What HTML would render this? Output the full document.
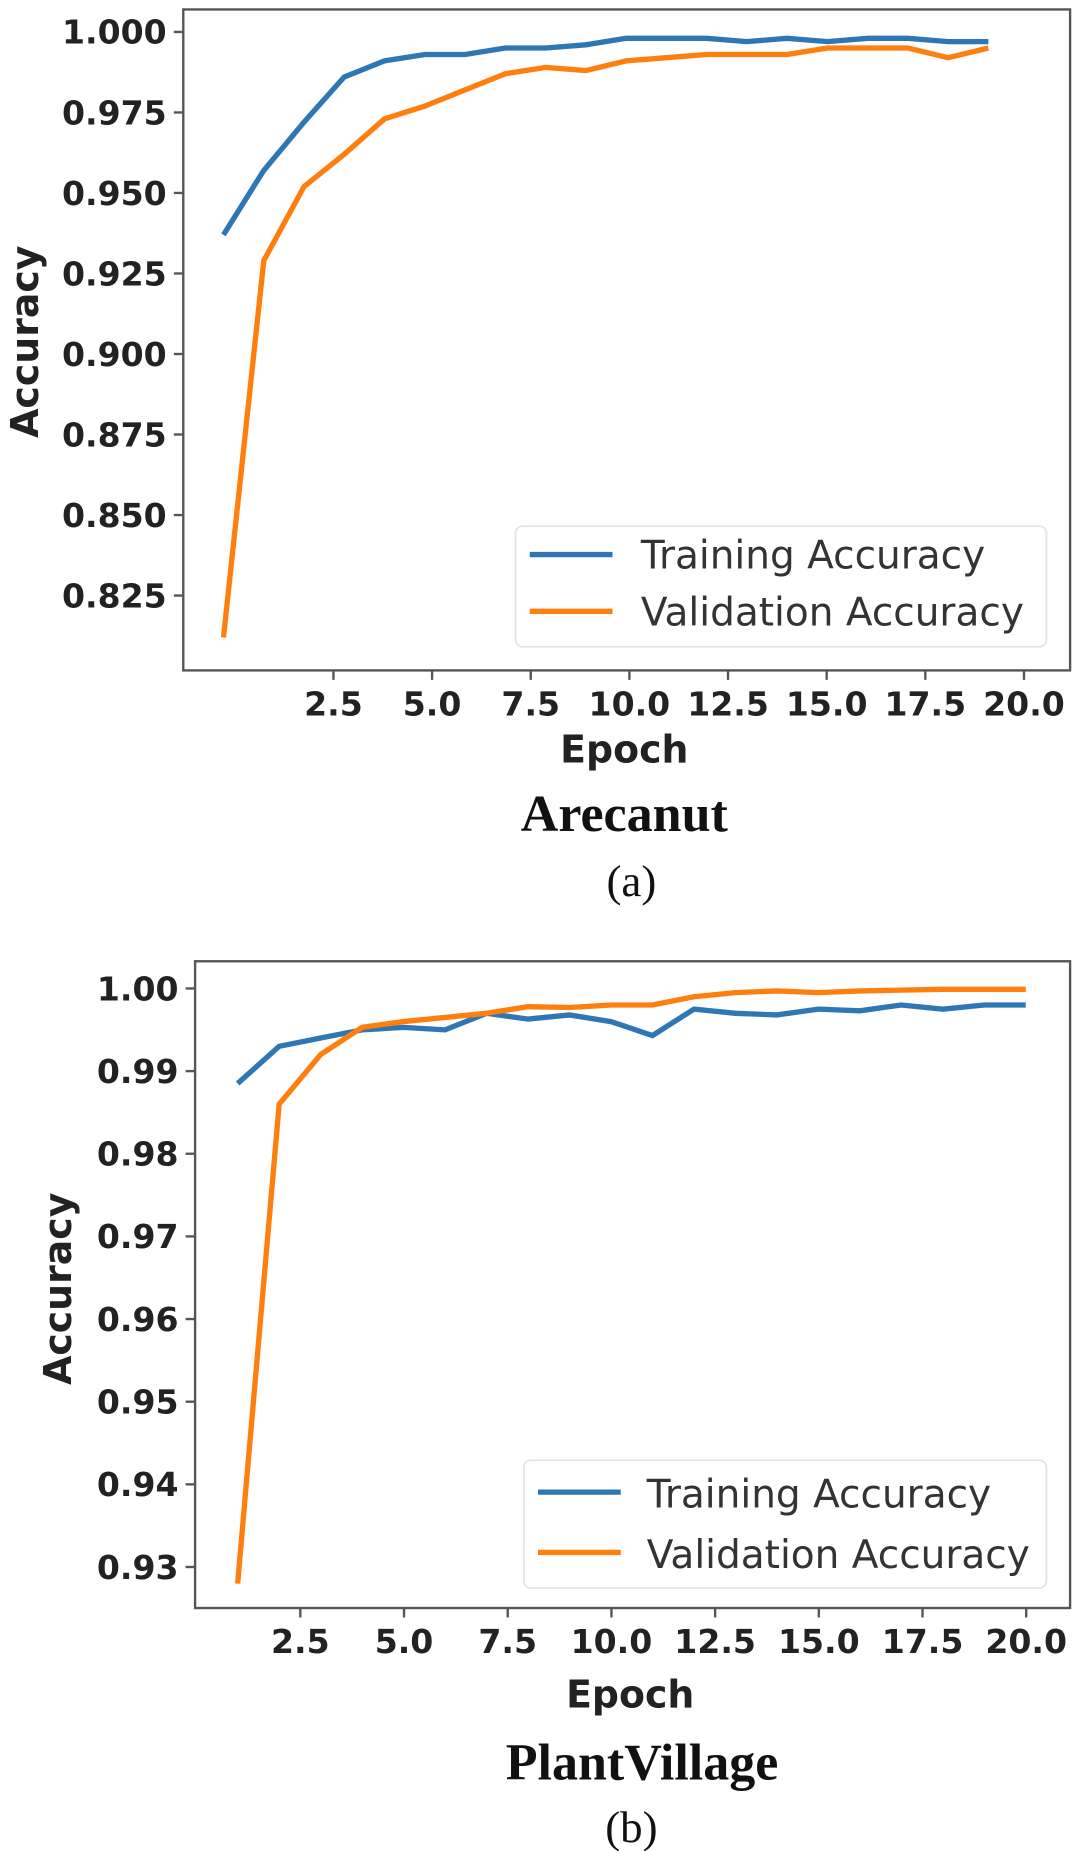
<!DOCTYPE html>
<html><head><meta charset="utf-8"><style>html,body{margin:0;padding:0;background:#fff;}svg{display:block;}</style></head>
<body>
<svg id="s" width="1076" height="1851" viewBox="0 0 910 1565.5" preserveAspectRatio="none" xmlns="http://www.w3.org/2000/svg">
<g font-family="DejaVu Sans, Liberation Sans, sans-serif" fill="#222">
<!-- Chart A -->
<rect x="155" y="8" width="750" height="559" fill="none" stroke="#555" stroke-width="2"/>
<g id="ayt" font-size="28" font-weight="bold" text-anchor="end"></g>
<g id="axt" font-size="28" font-weight="bold" text-anchor="middle"></g>
<polyline id="atr" fill="none" stroke="#2f77b4" stroke-width="4.5"/>
<polyline id="ava" fill="none" stroke="#ff7f0e" stroke-width="4.5"/>
<rect x="436" y="445" width="449" height="102" rx="6" fill="#fff" fill-opacity="0.85" stroke="#e4e4e4" stroke-width="1.5"/>
<line x1="448" y1="469" x2="518" y2="469" stroke="#2f77b4" stroke-width="4.5"/>
<line x1="448" y1="517" x2="518" y2="517" stroke="#ff7f0e" stroke-width="4.5"/>
<text x="542" y="481" font-size="33" fill="#333">Training Accuracy</text>
<text x="542" y="529" font-size="33" fill="#333">Validation Accuracy</text>
<text transform="translate(32,289) rotate(-90)" font-size="32" font-weight="bold" text-anchor="middle">Accuracy</text>
<text x="528" y="645" font-size="32" font-weight="bold" text-anchor="middle">Epoch</text>
<text x="528" y="703" font-size="44" font-weight="bold" text-anchor="middle" font-family="Liberation Serif, serif" fill="#111">Arecanut</text>
<text x="534" y="758" font-size="38" text-anchor="middle" font-family="Liberation Serif, serif" fill="#111">(a)</text>
<!-- Chart B -->
<rect x="165" y="813" width="740" height="547" fill="none" stroke="#555" stroke-width="2"/>
<g id="byt" font-size="28" font-weight="bold" text-anchor="end"></g>
<g id="bxt" font-size="28" font-weight="bold" text-anchor="middle"></g>
<polyline id="btr" fill="none" stroke="#2f77b4" stroke-width="4.5"/>
<polyline id="bva" fill="none" stroke="#ff7f0e" stroke-width="4.5"/>
<rect x="443" y="1235" width="442" height="108" rx="6" fill="#fff" fill-opacity="0.85" stroke="#e4e4e4" stroke-width="1.5"/>
<line x1="455" y1="1262" x2="525" y2="1262" stroke="#2f77b4" stroke-width="4.5"/>
<line x1="455" y1="1313" x2="525" y2="1313" stroke="#ff7f0e" stroke-width="4.5"/>
<text x="547" y="1275" font-size="33" fill="#333">Training Accuracy</text>
<text x="547" y="1326" font-size="33" fill="#333">Validation Accuracy</text>
<text transform="translate(60,1090) rotate(-90)" font-size="32" font-weight="bold" text-anchor="middle">Accuracy</text>
<text x="533" y="1444" font-size="32" font-weight="bold" text-anchor="middle">Epoch</text>
<text x="543" y="1505" font-size="44" font-weight="bold" text-anchor="middle" font-family="Liberation Serif, serif" fill="#111">PlantVillage</text>
<text x="534" y="1558" font-size="38" text-anchor="middle" font-family="Liberation Serif, serif" fill="#111">(b)</text>
</g>
</svg>
<script>
var NS="http://www.w3.org/2000/svg";
function el(p,tag,attrs,txt){var e=document.createElementNS(NS,tag);for(var k in attrs)e.setAttribute(k,attrs[k]);if(txt!==undefined)e.textContent=txt;document.getElementById(p).appendChild(e);return e;}
function tickY(g,x0,y,label){el(g,"text",{x:x0-14,y:y+10},label);el(g,"line",{x1:x0-8,y1:y,x2:x0,y2:y,stroke:"#555","stroke-width":2});}
function tickX(g,x,yb,label){el(g,"text",{x:x,y:yb+38},label);el(g,"line",{x1:x,y1:yb,x2:x,y2:yb+8,stroke:"#555","stroke-width":2});}
var ay=function(v){return 27+(1-v)/0.025*68.1;};
var al=["1.000","0.975","0.950","0.925","0.900","0.875","0.850","0.825"];
for(var i=0;i<8;i++)tickY("ayt",155,27+i*68.1,al[i]);
var xl=["2.5","5.0","7.5","10.0","12.5","15.0","17.5","20.0"];
for(var i=0;i<8;i++)tickX("axt",282+i*83.43,567,xl[i]);
var at=[0.937,0.957,0.972,0.986,0.991,0.993,0.993,0.995,0.995,0.996,0.998,0.998,0.998,0.997,0.998,0.997,0.998,0.998,0.997,0.997];
var av=[0.812,0.929,0.952,0.962,0.973,0.977,0.982,0.987,0.989,0.988,0.991,0.992,0.993,0.993,0.993,0.995,0.995,0.995,0.992,0.995];
function pts(arr,x0,dx,f){return arr.map(function(v,i){return (x0+i*dx).toFixed(1)+","+f(v).toFixed(1);}).join(" ");}
document.getElementById("atr").setAttribute("points",pts(at,189,34.05,ay));
document.getElementById("ava").setAttribute("points",pts(av,189,34.05,ay));
var by=function(v){return 836+(1-v)/0.01*69.9;};
var bl=["1.00","0.99","0.98","0.97","0.96","0.95","0.94","0.93"];
for(var i=0;i<8;i++)tickY("byt",165,836+i*69.9,bl[i]);
for(var i=0;i<8;i++)tickX("bxt",254+i*87.7,1360,xl[i]);
var bt=[0.9885,0.993,0.994,0.995,0.9953,0.995,0.997,0.9963,0.9968,0.996,0.9943,0.9975,0.997,0.9968,0.9975,0.9973,0.998,0.9975,0.998,0.998];
var bv=[0.928,0.986,0.992,0.9953,0.996,0.9965,0.997,0.9978,0.9977,0.998,0.998,0.999,0.9995,0.9997,0.9995,0.9997,0.9998,0.9999,0.9999,0.9999];
document.getElementById("btr").setAttribute("points",pts(bt,201,35.08,by));
document.getElementById("bva").setAttribute("points",pts(bv,201,35.08,by));
</script>
</body></html>
